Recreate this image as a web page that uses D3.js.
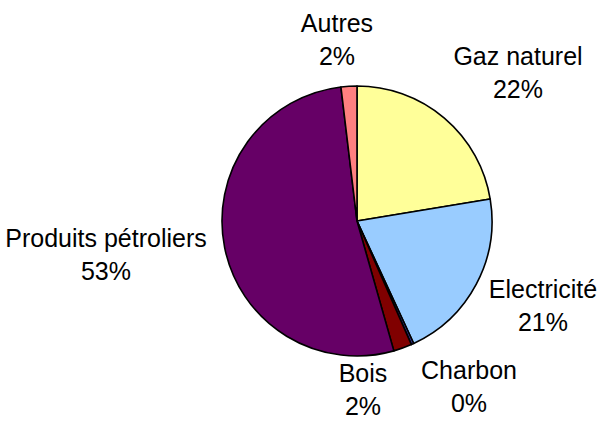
<!DOCTYPE html>
<html>
<head>
<meta charset="utf-8">
<script src="https://cdn.jsdelivr.net/npm/d3@7"></script>
<style>
  html, body { margin: 0; padding: 0; background: #fff; }
  svg { display: block; }
  .label { font-family: "Liberation Sans", Arial, sans-serif; font-size: 25px; fill: #000; }
</style>
</head>
<body>
<div id="chart"></div>
<script>
// Energy mix shares (clockwise from 12 o'clock)
const categories = ['Gaz naturel', 'Electricité', 'Charbon', 'Bois', 'Produits pétroliers', 'Autres'];
const shares = [22.4, 20.7, 0.3, 2.2, 52.5, 1.9];
const pctLabels = ['22%', '21%', '0%', '2%', '53%', '2%'];
const colors = ['#FFFF99', '#99CCFF', '#333399', '#800000', '#660066', '#FF8080'];

// label anchor points (centre x, first baseline y)
const labelPos = [[518, 65], [543, 298], [469, 379], [363, 382], [106, 247], [337, 32]];

const width = 603, height = 423;
const cx = 357, cy = 221, radius = 135;
const lineGap = 33;

const svg = d3.select('#chart')
    .append('svg')
    .attr('width', width)
    .attr('height', height);

const pie = d3.pie().sort(null).value(d => d);
const arc = d3.arc().innerRadius(0).outerRadius(radius);

svg.append('g')
    .attr('transform', `translate(${cx},${cy})`)
    .selectAll('path')
    .data(pie(shares))
    .enter().append('path')
    .attr('d', arc)
    .attr('fill', (d, i) => colors[i])
    .attr('stroke', '#000')
    .attr('stroke-width', 1.6)
    .attr('stroke-linejoin', 'round');

const labels = svg.append('g')
    .selectAll('text')
    .data(categories)
    .enter().append('text')
    .attr('class', 'label')
    .attr('text-anchor', 'middle')
    .attr('x', (d, i) => labelPos[i][0])
    .attr('y', (d, i) => labelPos[i][1]);

labels.append('tspan')
    .attr('x', (d, i) => labelPos[i][0])
    .text(d => d);

labels.append('tspan')
    .attr('x', (d, i) => labelPos[i][0])
    .attr('dy', lineGap)
    .text((d, i) => pctLabels[i]);
</script>
</body>
</html>
